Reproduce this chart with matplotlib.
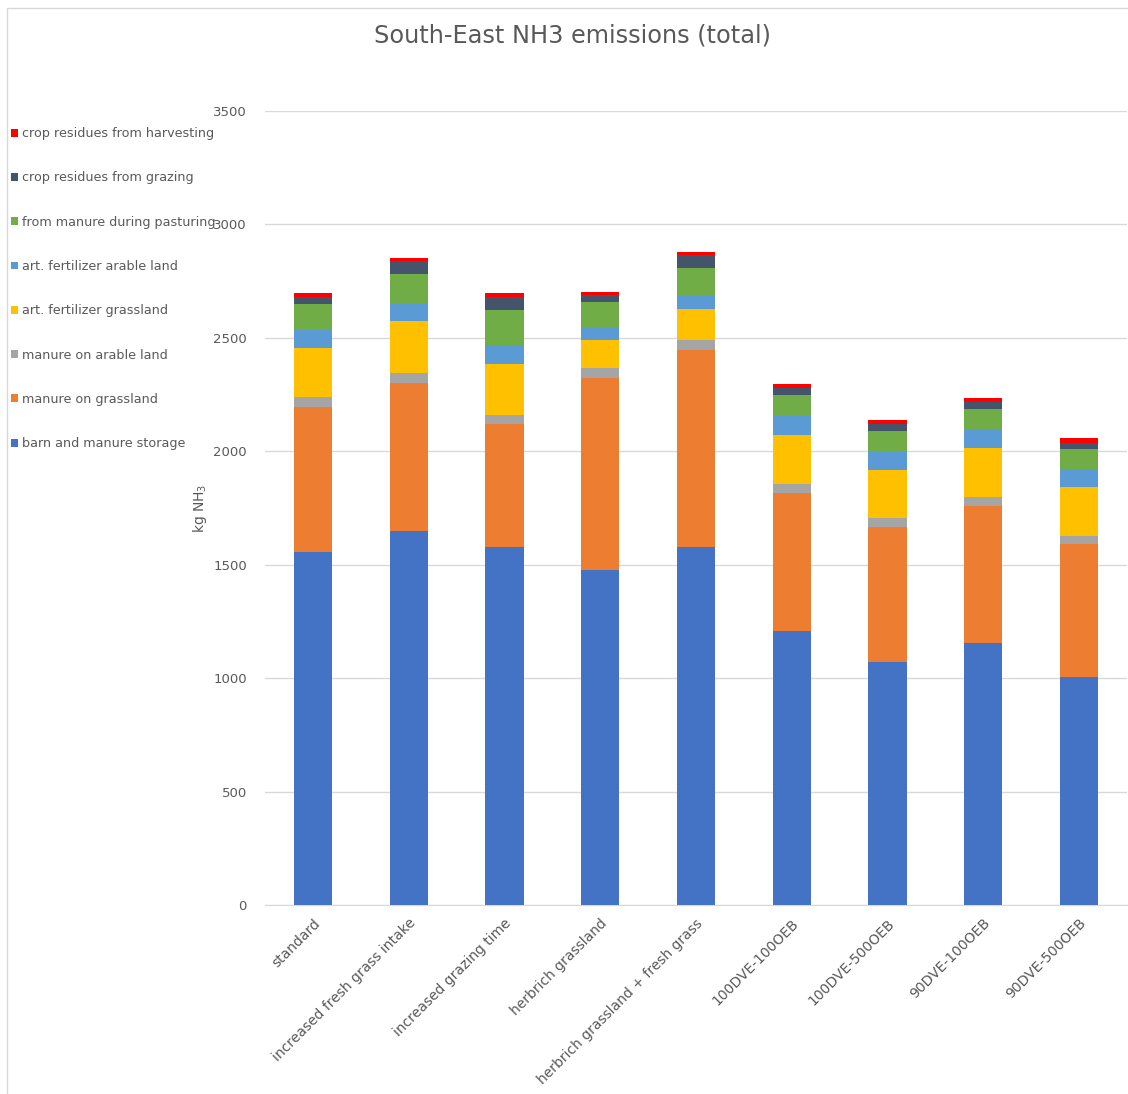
import matplotlib
matplotlib.use("Agg")
import matplotlib.pyplot as plt
from matplotlib.patches import Rectangle
import numpy as np

scenarios = ["standard", "increased fresh grass intake", "increased grazing time",
             "herbrich grassland", "herbrich grassland + fresh grass",
             "100DVE-100OEB", "100DVE-500OEB", "90DVE-100OEB", "90DVE-500OEB"]

barn_storage      = [1556, 1649, 1578, 1477, 1578, 1208, 1071, 1155, 1005]
manure_grassland  = [639, 652, 541, 846, 867, 609, 597, 605, 588]
manure_arable     = [44, 45, 41, 44, 44, 40, 37, 38, 35]
fert_grassland    = [215, 227, 226, 125, 137, 215, 214, 215, 215]
fert_arable       = [81, 81, 82, 57, 62, 82, 82, 81, 79]
pasturing         = [113, 127, 155, 110, 119, 95, 90, 91, 87]
residues_grazing  = [31, 56, 57, 29, 57, 29, 29, 32, 29]
residues_harvest  = [17, 14, 16, 15, 13, 19, 19, 19, 21]

series_names = ["barn and manure storage", "manure on grassland", "manure on arable land",
                "art. fertilizer grassland", "art. fertilizer arable land",
                "from manure during pasturing", "crop residues from grazing",
                "crop residues from harvesting"]
series_values = [barn_storage, manure_grassland, manure_arable, fert_grassland,
                 fert_arable, pasturing, residues_grazing, residues_harvest]
colors = ["#4472C4", "#ED7D31", "#A5A5A5", "#FFC000", "#5B9BD5", "#70AD47", "#44546A", "#FF0000"]

W, H = 1128, 1094
fig = plt.figure(figsize=(W / 100, H / 100), dpi=100)
fig.patch.set_facecolor("white")

# chart border
fig.patches.append(Rectangle((7 / W, -0.01), 1.1, (H - 8) / H + 0.01, transform=fig.transFigure,
                             fill=False, edgecolor="#d9d9d9", linewidth=1))

ax = fig.add_axes([265 / W, (H - 905) / H, (1127 - 265) / W, (905 - 111) / H])
x = np.arange(len(scenarios))
bottom = np.zeros(len(scenarios))
handles = []
for name, vals, c in zip(series_names, series_values, colors):
    vals = np.array(vals, dtype=float)
    b = ax.bar(x, vals, width=0.4, bottom=bottom, color=c, label=name, zorder=3)
    handles.append(b)
    bottom += vals

ax.set_xlim(-0.5, len(scenarios) - 0.5)
ax.set_ylim(0, 3500)
ax.set_yticks(np.arange(0, 3501, 500))
ax.yaxis.grid(True, color="#d9d9d9", linewidth=1, zorder=0)
for s in ["top", "right", "left"]:
    ax.spines[s].set_visible(False)
ax.spines["bottom"].set_color("#d9d9d9")
ax.tick_params(axis="both", length=0, colors="#595959", labelsize=9.5)
ax.tick_params(axis="y", pad=13)
ax.tick_params(axis="x", pad=8)
ax.set_xticks(x)
ax.set_xticklabels(scenarios, rotation=45, ha="right", rotation_mode="anchor", fontsize=10)
ax.set_ylabel("kg NH$_3$", color="#595959", fontsize=10, labelpad=3)

fig.text(573 / W, 1 - 35 / H, "South-East NH3 emissions (total)", ha="center", va="center",
         fontsize=17.3, color="#595959")

leg = fig.legend(handles[::-1], series_names[::-1], loc="upper left",
                 bbox_to_anchor=(6 / W, 1 - 122 / H), frameon=False, fontsize=9.2,
                 labelcolor="#595959", handlelength=0.57, handleheight=0.57,
                 handletextpad=0.25, labelspacing=2.45, borderaxespad=0)

fig.savefig("out.png", dpi=100)
